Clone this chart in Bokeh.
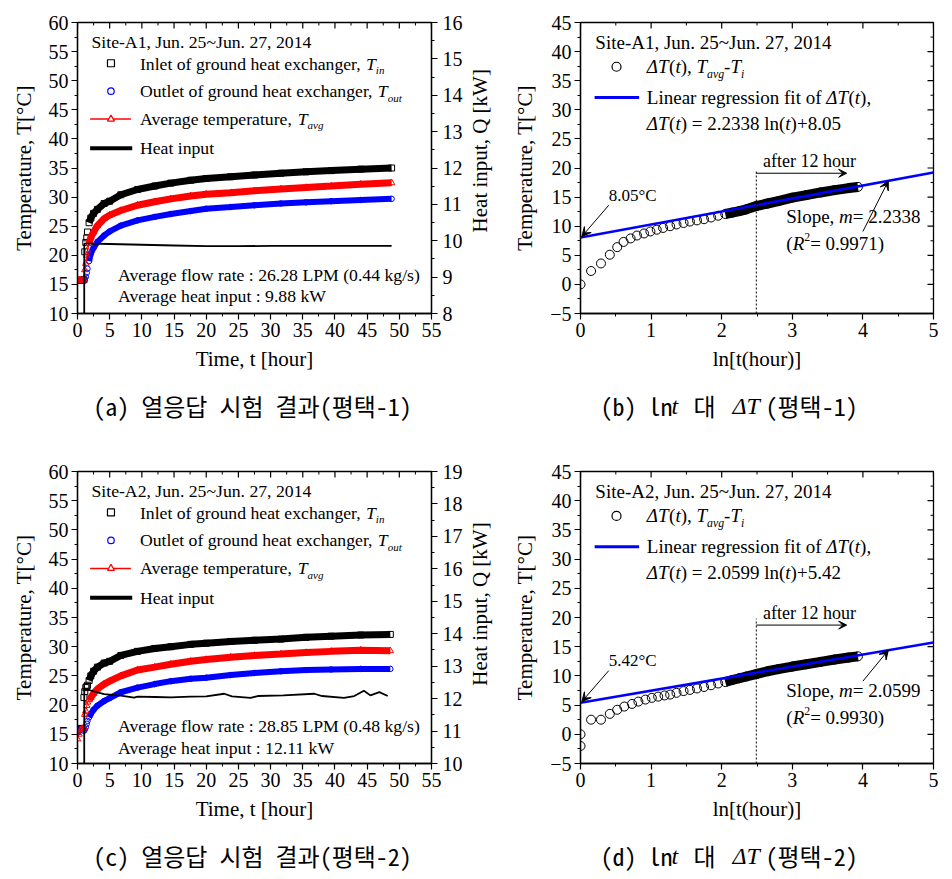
import math
from bokeh.plotting import figure
from bokeh.models import Range1d, LinearAxis, FixedTicker, Arrow, VeeHead
from bokeh.layouts import column, row
from bokeh.core.properties import value
from bokeh.embed import file_html
from bokeh.resources import INLINE

SERIF = "Liberation Serif"
CJK = "'Noto Sans Mono CJK KR', 'Noto Sans CJK KR', monospace"

# ---------------- data: Site-A1 (panel a) ----------------
t_a = [0.0, 0.25, 0.5, 0.75, 1.0, 1.13, 1.29, 1.44, 1.55, 1.8, 2.07, 2.5, 3.1, 4.14, 5.0, 6.73,
       9.32, 12.0, 14.5, 17.6, 20.0, 23.8, 27.5, 31.6, 35.5, 39.4, 44.0, 48.8]
tin_a = [15.7, 15.7, 15.7, 15.7, 15.8, 20.6, 22.2, 23.0, 24.0, 25.6, 26.4, 27.2, 27.9, 28.9, 29.3, 30.4,
         31.3, 31.9, 32.4, 32.9, 33.2, 33.5, 33.8, 34.1, 34.35, 34.55, 34.8, 35.0]
tout_a = [15.7, 15.7, 15.7, 15.7, 15.7, 15.8, 16.3, 17.0, 17.7, 19.0, 20.3, 21.3, 22.3, 23.4, 24.1, 25.1,
          26.0, 26.6, 27.1, 27.6, 28.0, 28.3, 28.6, 28.9, 29.1, 29.3, 29.5, 29.7]
tavg_a = [15.7, 15.7, 15.7, 15.7, 15.8, 17.5, 18.6, 20.0, 20.9, 22.0, 23.1, 24.0, 25.1, 26.3, 26.9, 27.7,
          28.6, 29.2, 29.7, 30.2, 30.5, 30.75, 31.1, 31.4, 31.65, 31.9, 32.2, 32.45]
th_a = [0.0, 1.03, 1.05, 2.0, 5.0, 10.0, 15.0, 20.0, 25.0, 30.0, 35.0, 40.0, 45.0, 48.8]
q_a = [0.0, 0.0, 9.92, 9.92, 9.91, 9.89, 9.87, 9.85, 9.85, 9.86, 9.86, 9.86, 9.86, 9.86]

# ---------------- data: Site-A2 (panel c) ----------------
t_c = [0.0, 0.25, 0.5, 0.75, 1.0, 1.13, 1.29, 1.44, 1.55, 1.8, 2.07, 2.5, 3.1, 4.14, 5.0, 6.73,
       9.32, 12.0, 14.5, 17.6, 20.0, 23.8, 27.5, 31.6, 35.5, 39.4, 44.0, 48.6]
tin_c = [15.5, 15.8, 16.0, 16.0, 21.3, 22.3, 23.0, 23.2, 23.4, 24.2, 25.0, 25.8, 26.5, 27.2, 27.5, 28.5,
         29.2, 29.7, 30.0, 30.4, 30.6, 30.9, 31.1, 31.3, 31.6, 31.8, 32.0, 32.1]
tout_c = [15.3, 15.6, 15.9, 16.0, 15.6, 15.8, 16.2, 16.8, 17.3, 17.9, 18.5, 19.2, 19.9, 20.7, 21.2, 22.2,
          23.0, 23.6, 24.1, 24.5, 24.7, 25.15, 25.5, 25.8, 26.0, 26.1, 26.2, 26.2]
tavg_c = [14.2, 15.0, 15.8, 16.0, 16.1, 18.4, 19.0, 19.9, 20.5, 20.9, 21.3, 22.0, 22.75, 23.6, 24.1, 25.0,
          26.0, 26.5, 27.0, 27.5, 27.8, 28.2, 28.5, 28.75, 29.0, 29.2, 29.4, 29.3]
th_c = [0.0, 1.03, 1.05, 2.07, 3.1, 4.14, 6.73, 8.8, 9.32, 12.0, 14.5, 17.6, 20.0, 22.8, 24.0, 26.9,
        28.0, 32.0, 36.8, 38.0, 41.4, 43.0, 44.5, 45.5, 46.9, 48.2]
q_c = [0.0, 0.0, 12.3, 12.25, 12.19, 12.14, 12.09, 12.03, 12.06, 12.05, 12.04, 12.06, 12.07, 12.15, 12.07, 12.02,
       12.08, 12.1, 12.15, 12.08, 12.02, 12.08, 12.24, 12.1, 12.2, 12.08]

# ---------------- data: ln t vs dT (panels b, d) ----------------
lnt_b = [0.0, 0.15, 0.29, 0.415, 0.52, 0.61, 0.71, 0.80, 0.90, 0.99, 1.08, 1.17, 1.27, 1.36, 1.46, 1.55, 1.65,
         1.75, 1.85, 1.95, 2.05, 2.15, 2.25, 2.35, 2.5, 2.65, 2.8, 3.0, 3.2, 3.4, 3.6, 3.8, 3.93]
dT_b = [0.0, 2.3, 3.6, 5.1, 6.4, 7.3, 7.9, 8.4, 8.75, 9.1, 9.4, 9.7, 10.0, 10.3, 10.55, 10.8, 11.0,
        11.2, 11.5, 11.8, 12.1, 12.35, 12.6, 12.9, 13.5, 13.9, 14.3, 14.9, 15.35, 15.8, 16.2, 16.55, 16.75]
fit_b = (2.2338, 8.05, 0.9971)

lnt_d = [0.0, 0.0, 0.15, 0.29, 0.415, 0.52, 0.62, 0.73, 0.82, 0.92, 1.01, 1.1, 1.19, 1.27, 1.36, 1.46, 1.55,
         1.65, 1.75, 1.85, 1.95, 2.05, 2.15, 2.25, 2.35, 2.5, 2.65, 2.8, 3.0, 3.2, 3.4, 3.6, 3.8, 3.93]
dT_d = [0.0, -2.0, 2.5, 2.5, 3.5, 4.2, 4.75, 5.2, 5.6, 5.95, 6.24, 6.45, 6.65, 6.8, 7.1, 7.4, 7.6,
        7.85, 8.1, 8.4, 8.7, 8.95, 9.3, 9.6, 9.9, 10.35, 10.8, 11.15, 11.6, 12.0, 12.4, 12.8, 13.15, 13.35]
fit_d = (2.0599, 5.42, 0.9930)

LN_RANGE = [0, 5]
LN12 = 2.49

# ---------------- ticks ----------------
T_TICKS = [0, 5, 10, 15, 20, 25, 30, 35, 40, 45, 50, 55]
T_MINOR = [2.5, 7.5, 12.5, 17.5, 22.5, 27.5, 32.5, 37.5, 42.5, 47.5, 52.5]
TEMP_TICKS = [10, 15, 20, 25, 30, 35, 40, 45, 50, 55, 60]
TEMP_MINOR = [12.5, 17.5, 22.5, 27.5, 32.5, 37.5, 42.5, 47.5, 52.5, 57.5]
QA_TICKS = [8, 9, 10, 11, 12, 13, 14, 15, 16]
QA_MINOR = [8.5, 9.5, 10.5, 11.5, 12.5, 13.5, 14.5, 15.5]
QC_TICKS = [10, 11, 12, 13, 14, 15, 16, 17, 18, 19]
QC_MINOR = [10.5, 11.5, 12.5, 13.5, 14.5, 15.5, 16.5, 17.5, 18.5]
LN_TICKS = [0, 1, 2, 3, 4, 5]
LN_MINOR = [0.5, 1.5, 2.5, 3.5, 4.5]
DT_TICKS = [-5, 0, 5, 10, 15, 20, 25, 30, 35, 40, 45]
DT_MINOR = [-2.5, 2.5, 7.5, 12.5, 17.5, 22.5, 27.5, 32.5, 37.5, 42.5]

# ---------------- text metrics (Times-compatible) ----------------
REG = {' ': 250, '!': 333, '(': 333, ')': 333, ',': 250, '-': 333, '.': 250, '/': 278, ':': 278,
       '=': 564, '+': 564, '[': 333, ']': 333, '~': 541, '°': 400, 'Δ': 612,
       'A': 722, 'B': 667, 'C': 667, 'D': 722, 'E': 611, 'F': 556, 'G': 722, 'H': 722, 'I': 333,
       'J': 389, 'K': 722, 'L': 611, 'M': 889, 'N': 722, 'O': 722, 'P': 556, 'Q': 722, 'R': 667,
       'S': 556, 'T': 611, 'U': 722, 'V': 722, 'W': 944, 'X': 722, 'Y': 722, 'Z': 611,
       'a': 444, 'b': 500, 'c': 444, 'd': 500, 'e': 444, 'f': 333, 'g': 500, 'h': 500, 'i': 278,
       'j': 278, 'k': 500, 'l': 278, 'm': 778, 'n': 500, 'o': 500, 'p': 500, 'q': 500, 'r': 333,
       's': 389, 't': 278, 'u': 500, 'v': 500, 'w': 722, 'x': 500, 'y': 500, 'z': 444}
ITA = {'T': 556, 't': 278, 'a': 500, 'v': 444, 'g': 500, 'i': 278, 'n': 500, 'o': 500, 'u': 500,
       'm': 722, 'R': 611, 'Δ': 612}


def tw(s, italic):
    tot = 0
    for ch in s:
        if italic and ch in ITA:
            tot += ITA[ch]
        else:
            tot += REG.get(ch, 500)
    return tot / 1000.0


def rich(p, x, y, parts, size, **kw):
    off = 0.0
    for part in parts:
        s, style = part[0], part[1]
        kind = part[2] if len(part) > 2 else ""
        italic = style == "i"
        sz = size * 0.62 if kind else size
        dy = 0.0
        if kind == "sub":
            dy = 0.36 * size
        elif kind == "sup":
            dy = -0.36 * size
        p.text(x=[x], y=[y], text=[s], x_offset=off, y_offset=dy,
               text_font=value(SERIF), text_font_size=f"{sz:.1f}px",
               text_font_style="italic" if italic else "normal",
               text_align="left", text_baseline="middle", text_color="black", **kw)
        off += tw(s, italic) * sz


def style_axis(ax, ticks, minor):
    ax.ticker = FixedTicker(ticks=ticks, minor_ticks=minor)
    ax.axis_line_color = "black"
    ax.axis_line_width = 1.3
    ax.major_tick_line_color = "black"
    ax.minor_tick_line_color = "black"
    ax.major_tick_line_width = 1.2
    ax.minor_tick_line_width = 1.0
    ax.major_tick_in, ax.major_tick_out = 0, 6
    ax.minor_tick_in, ax.minor_tick_out = 0, 3
    ax.major_label_text_font = SERIF
    ax.major_label_text_color = "black"
    ax.major_label_text_font_style = "normal"
    ax.major_label_text_font_size = "20px"
    ax.major_label_standoff = 3


def axis_title(ax, text, standoff):
    ax.axis_label = text
    ax.axis_label_text_font = SERIF
    ax.axis_label_text_font_size = "21px"
    ax.axis_label_text_font_style = "normal"
    ax.axis_label_text_color = "black"
    ax.axis_label_standoff = standoff


def inner_ticks_top(p, ticks, minor, ytop):
    # mirrored ticks on the top frame edge, pointing inward (outer half clipped by the frame)
    p.scatter(ticks, [ytop] * len(ticks), marker="dash", angle=math.pi / 2, size=12,
              line_color="black", line_width=1.2)
    p.scatter(minor, [ytop] * len(minor), marker="dash", angle=math.pi / 2, size=6,
              line_color="black", line_width=1.0)


def inner_ticks_right(p, ticks, minor, xright):
    p.scatter([xright] * len(ticks), ticks, marker="dash", size=12, line_color="black", line_width=1.2)
    p.scatter([xright] * len(minor), minor, marker="dash", size=6, line_color="black", line_width=1.0)


def base_fig(W, H, bl, br, bt, bb, xr, yr):
    p = figure(width=W, height=H, x_range=Range1d(*xr), y_range=Range1d(*yr),
               output_backend="svg", toolbar_location=None, title=None,
               min_border_left=bl, min_border_right=br, min_border_top=bt, min_border_bottom=bb)
    p.xgrid.visible = False
    p.ygrid.visible = False
    p.outline_line_color = "black"
    p.outline_line_width = 1.3
    p.background_fill_color = "white"
    p.border_fill_color = "white"
    return p


def blank_fig(W, H):
    p = figure(width=W, height=H, x_range=Range1d(0, W), y_range=Range1d(H, 0),
               output_backend="svg", toolbar_location=None, title=None,
               x_axis_location=None, y_axis_location=None,
               min_border_left=0, min_border_right=0, min_border_top=0, min_border_bottom=0)
    p.xgrid.visible = False
    p.ygrid.visible = False
    p.outline_line_color = None
    p.background_fill_color = "white"
    p.border_fill_color = "white"
    return p


def temp_panel(H, bt, site, t, tin, tout, tavg, th, q, qrange, qticks, qminor,
               flow_txt, heat_txt, flow_y, heat_y):
    W = 466
    p = base_fig(W, H, 77, W - 77 - 354, bt, 67, (0, 55), (10, 60))
    p.extra_y_ranges = {"heat": Range1d(*qrange)}
    style_axis(p.xaxis[0], T_TICKS, T_MINOR)
    style_axis(p.yaxis[0], TEMP_TICKS, TEMP_MINOR)
    axis_title(p.xaxis[0], "Time, t [hour]", 7)
    axis_title(p.yaxis[0], "Temperature, T[°C]", 10)
    right = LinearAxis(y_range_name="heat")
    style_axis(right, qticks, qminor)
    right.major_label_standoff = 5
    p.add_layout(right, "right")
    inner_ticks_top(p, T_TICKS, T_MINOR, 60)

    i0 = next(i for i, v in enumerate(t) if v >= 1.8)
    # inlet (black squares)
    p.line(t[i0:], tin[i0:], line_color="black", line_width=7)
    p.scatter(t, tin, marker="square", size=6, line_color="black", fill_color=None, line_width=1)
    # outlet (blue circles)
    p.line(t[i0:], tout[i0:], line_color="#0000ff", line_width=6)
    p.scatter(t, tout, marker="circle", size=5.5, line_color="#0000ff", fill_color=None, line_width=1)
    # average (red line + triangles)
    p.line(t, tavg, line_color="#ff0000", line_width=1)
    p.line(t[i0:], tavg[i0:], line_color="#ff0000", line_width=7)
    p.scatter(t, tavg, marker="triangle", size=6.5, line_color="#ff0000", fill_color=None, line_width=1)
    # heat input
    p.line(th, q, line_color="black", line_width=1.8, y_range_name="heat")

    # legend
    fs = 17.7
    rich(p, 2.17, 56.6, [(site, "n")], fs)
    p.scatter([5.2], [53.0], marker="square", size=7, line_color="black", fill_color="white", line_width=1.2)
    rich(p, 9.7, 52.9, [("Inlet of ground heat exchanger, ", "n"), ("T", "i"), ("in", "i", "sub")], fs)
    p.scatter([5.2], [48.2], marker="circle", size=6.5, line_color="#0000ff", fill_color="white", line_width=1.2)
    rich(p, 9.7, 48.2, [("Outlet of ground heat exchanger, ", "n"), ("T", "i"), ("out", "i", "sub")], fs)
    p.line([1.96, 8.3], [43.4, 43.4], line_color="#ff0000", line_width=1.5)
    p.scatter([5.2], [43.4], marker="triangle", size=7, line_color="#ff0000", fill_color="white", line_width=1.2)
    rich(p, 9.7, 43.4, [("Average temperature, ", "n"), ("T", "i"), ("avg", "i", "sub")], fs)
    p.line([1.96, 8.5], [38.4, 38.4], line_color="black", line_width=4)
    rich(p, 9.7, 38.4, [("Heat input", "n")], fs)
    rich(p, 6.3, flow_y, [(flow_txt, "n")], fs)
    rich(p, 6.3, heat_y, [(heat_txt, "n")], fs)
    return p


def heat_label_strip(H, yc):
    # right-hand axis title of the temperature panel, reading bottom-to-top
    p = blank_fig(28, H)
    p.text(x=[13], y=[yc], text=["Heat input, Q [kW]"], angle=math.pi / 2,
           text_font=value(SERIF), text_font_size="21px", text_align="center",
           text_baseline="middle", text_color="black")
    return p


def ln_panel(H, bt, site, lnt, dT, fit, yl):
    W = 458
    p = base_fig(W, H, 86, W - 86 - 353, bt, 67, (0, 5), (-5, 45))
    style_axis(p.xaxis[0], LN_TICKS, LN_MINOR)
    style_axis(p.yaxis[0], DT_TICKS, DT_MINOR)
    axis_title(p.xaxis[0], "ln[t(hour)]", 7)
    axis_title(p.yaxis[0], "Temperature, T[°C]", 10)
    inner_ticks_top(p, LN_TICKS, LN_MINOR, 45)
    inner_ticks_right(p, DT_TICKS, DT_MINOR, 5)

    slope, icpt, r2 = fit
    i0 = next(i for i, v in enumerate(lnt) if v >= 2.0)
    p.line(lnt[i0:], dT[i0:], line_color="black", line_width=10)
    p.scatter(lnt, dT, marker="circle", size=9, line_color="black", fill_color=None, line_width=1)
    xf = LN_RANGE
    yf = [slope * v + icpt for v in xf]
    p.line(xf, yf, line_color="#0000ff", line_width=2.5)

    # 12 hour marker
    p.line([LN12, LN12], [-5, yl["dot_top"]], line_color="black", line_width=1, line_dash="2 2")
    p.add_layout(Arrow(end=VeeHead(size=8, line_color="black", fill_color="black", line_width=1),
                       x_start=LN12, y_start=yl["arrow"], x_end=3.77, y_end=yl["arrow"],
                       line_color="black", line_width=1))
    rich(p, 2.585, yl["after"], [("after 12 hour", "n")], 18)

    # intercept annotation
    p.add_layout(Arrow(end=VeeHead(size=9, line_color="black", fill_color="black", line_width=1),
                       x_start=0.40, y_start=yl["icpt_arrow"], x_end=0.02, y_end=icpt + 0.2,
                       line_color="black", line_width=1))
    rich(p, 0.40, yl["icpt_txt"], [(f"{icpt:.2f}°C", "n")], 17)

    # slope annotation
    p.add_layout(Arrow(end=VeeHead(size=9, line_color="black", fill_color="black", line_width=1),
                       x_start=4.0, y_start=9.1, x_end=4.36, y_end=slope * 4.36 + icpt,
                       line_color="black", line_width=1))
    fs = 19
    rich(p, 2.915, yl["slope"], [("Slope, ", "n"), ("m", "i"), (f" = {slope:.4f}", "n")], fs)
    rich(p, 2.915, yl["r2"], [("(", "n"), ("R", "i"), ("2", "n", "sup"), (f" = {r2:.4f})", "n")], fs)

    # legend
    rich(p, 0.21, 41.6, [(site, "n")], fs)
    p.scatter([0.51], [37.4], marker="circle", size=9, line_color="black", fill_color=None, line_width=1.2)
    rich(p, 0.94, 37.4, [("ΔT", "i"), ("(", "n"), ("t", "i"), ("), ", "n"), ("T", "i"), ("avg", "i", "sub"),
                         ("-", "n"), ("T", "i"), ("i", "i", "sub")], fs)
    p.line([0.2, 0.83], [32.1, 32.1], line_color="#0000ff", line_width=3)
    rich(p, 0.94, 32.1, [("Linear regression fit of ", "n"), ("ΔT", "i"), ("(", "n"), ("t", "i"), ("),", "n")], fs)
    rich(p, 0.94, 27.7, [("ΔT", "i"), ("(", "n"), ("t", "i"), (f") = {slope:.4f} ln(", "n"), ("t", "i"),
                         (f")+{icpt:.2f}", "n")], fs)
    return p


def caption_strip(H, cy, pieces):
    # pieces: (x in page pixels, text, kind, align)
    p = blank_fig(952, H)
    for x, txt, kind, align in pieces:
        if kind == "i":
            font, style = SERIF, "italic"
        else:
            font, style = CJK, "normal"
        p.text(x=[x], y=[cy], text=[txt], text_font=value(font), text_font_style=style,
               text_font_size="24px", text_align=align, text_baseline="middle", text_color="black")
    return p


pa = temp_panel(380, 22, "Site-A1, Jun. 25~Jun. 27, 2014", t_a, tin_a, tout_a, tavg_a, th_a, q_a,
                (8, 16), QA_TICKS, QA_MINOR,
                "Average flow rate : 26.28 LPM (0.44 kg/s)", "Average heat input : 9.88 kW", 16.6, 13.0)
pc = temp_panel(390, 31, "Site-A2, Jun. 25~Jun. 27, 2014", t_c, tin_c, tout_c, tavg_c, th_c, q_c,
                (10, 19), QC_TICKS, QC_MINOR,
                "Average flow rate : 28.85 LPM (0.48 kg/s)", "Average heat input : 12.11 kW", 16.5, 12.7)

pb = ln_panel(380, 22, "Site-A1, Jun. 25~Jun. 27, 2014", lnt_b, dT_b, fit_b,
              {"dot_top": 19.7, "arrow": 19.1, "after": 21.2, "icpt_arrow": 13.6, "icpt_txt": 15.3,
               "slope": 11.6, "r2": 7.0})
pd_ = ln_panel(390, 31, "Site-A2, Jun. 25~Jun. 27, 2014", lnt_d, dT_d, fit_d,
               {"dot_top": 19.8, "arrow": 18.7, "after": 20.8, "icpt_arrow": 10.9, "icpt_txt": 12.7,
                "slope": 7.5, "r2": 2.9})

ha = heat_label_strip(380, 22 + 291 / 2)
hc = heat_label_strip(390, 31 + 292 / 2)

cap1 = caption_strip(60, 25, [(252, "(a) 열응답 시험 결과(평택-1)", "n", "center"),
                              (600, "(b) ln", "n", "left"), (671, "t", "i", "left"),
                              (693, "대", "n", "left"), (732, "ΔT", "i", "left"),
                              (765, "(평택-1)", "n", "left")])
cap2 = caption_strip(47, 25, [(252, "(c) 열응답 시험 결과(평택-2)", "n", "center"),
                              (600, "(d) ln", "n", "left"), (671, "t", "i", "left"),
                              (693, "대", "n", "left"), (732, "ΔT", "i", "left"),
                              (765, "(평택-2)", "n", "left")])

layout = column(row(pa, ha, pb), cap1, row(pc, hc, pd_), cap2)
open("out.html", "w").write(file_html(layout, INLINE))
